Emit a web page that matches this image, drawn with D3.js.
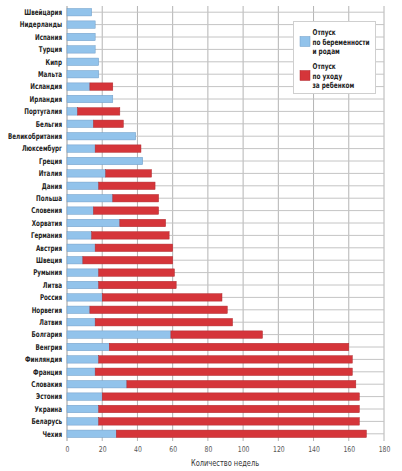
<!DOCTYPE html>
<html><head><meta charset="utf-8">
<script src="https://cdn.jsdelivr.net/npm/d3@7"></script>
<style>
html,body{margin:0;padding:0;background:#fff;}
svg{display:block;}
text{font-family:"DejaVu Sans Condensed","DejaVu Sans",sans-serif;}
</style></head>
<body>
<svg id="chart" width="402" height="471"></svg>
<script>
const countries = ["Швейцария","Нидерланды","Испания","Турция","Кипр","Мальта","Исландия","Ирландия","Португалия","Бельгия","Великобритания","Люксембург","Греция","Италия","Дания","Польша","Словения","Хорватия","Германия","Австрия","Швеция","Румыния","Литва","Россия","Норвегия","Латвия","Болгария","Венгрия","Финляндия","Франция","Словакия","Эстония","Украина","Беларусь","Чехия"];
const maternity = [14,16,16,16,18,18,13,26,6,15,39,16,43,22,18,26,15,30,14,16,9,18,18,20,13,16,59,24,18,16,34,20,18,18,28];
const childcare = [0,0,0,0,0,0,13,0,24,17,0,26,0,26,32,26,37,26,44,44,51,43,44,68,78,78,52,136,144,146,130,146,148,148,142];
const xTicks = [0,20,40,60,80,100,120,140,160,180];
const seriesNames = ["Отпуск\nпо беременности\nи родам","Отпуск\nпо уходу\nза ребенком"];
const seriesColors = ["#92c3eb","#d5353a"];
const seriesStrokes = ["#6f9cc6","#b02a2e"];
const xTitle = "Количество недель";

const svg = d3.select("#chart");
const x = d3.scaleLinear().domain([0,180]).range([67,384]);
const y = d3.scaleBand().domain(countries).range([6,440]).paddingInner(0.4).paddingOuter(0.2);
const yc = d => y(d) + y.bandwidth()/2;

function ctext(g, px, py, str, opts){
  return g.append("text")
    .attr("transform",`translate(${px},${py}) scale(${opts.sx||0.8},1)`)
    .attr("dy","0.35em")
    .attr("text-anchor",opts.anchor||"start")
    .attr("font-size",opts.size||8)
    .attr("font-weight",opts.weight||"normal")
    .attr("fill",opts.fill||"#222")
    .text(str);
}

// vertical grid
svg.append("g").selectAll("line").data(xTicks).join("line")
  .attr("x1",d=>x(d)).attr("x2",d=>x(d)).attr("y1",6).attr("y2",441)
  .attr("stroke",d=>d===0?"#9a9a9a":"#b4b4b4").attr("stroke-width",1);
// horizontal grid through band centers
svg.append("g").selectAll("line").data(countries).join("line")
  .attr("x1",x(0)).attr("x2",x(180)).attr("y1",d=>yc(d)).attr("y2",d=>yc(d))
  .attr("stroke","#c4c4c4").attr("stroke-width",1);

const data = countries.map((c,i)=>({c, m:maternity[i], p:childcare[i]}));
const stack = d3.stack().keys(["m","p"])(data);
svg.append("g").selectAll("g").data(stack).join("g")
  .attr("fill",(d,i)=>seriesColors[i]).attr("stroke",(d,i)=>seriesStrokes[i]).attr("stroke-width",0.5)
  .selectAll("rect").data(d=>d.filter(s=>s[1]>s[0])).join("rect")
  .attr("x",d=>x(d[0])).attr("width",d=>x(d[1])-x(d[0]))
  .attr("y",d=>y(d.data.c)).attr("height",y.bandwidth());

// country labels
const lab = svg.append("g");
countries.forEach(c=>ctext(lab, 62, yc(c), c, {anchor:"end", size:8, weight:"bold", fill:"#222", sx:0.78}));

// x axis tick labels
const xAxis = d3.axisBottom(x).tickValues(xTicks).tickSize(0).tickPadding(0);
const ax = svg.append("g").attr("transform","translate(0,446)").call(xAxis);
ax.select(".domain").remove();
ax.selectAll("text").attr("font-size",8).attr("fill","#555").attr("transform","scale(0.85,1)");

ctext(svg, 225, 463, xTitle, {anchor:"middle", size:9, fill:"#333", sx:0.82});

// legend
const lg = svg.append("g");
lg.append("rect").attr("x",293.5).attr("y",21.5).attr("width",82).attr("height",72)
  .attr("fill","#fff").attr("stroke","#cfcfcf");
const lgY = [32.5,66.5];
seriesNames.forEach((name,i)=>{
  lg.append("rect").attr("x",300).attr("y",lgY[i]+4).attr("width",10).attr("height",10)
    .attr("fill",seriesColors[i]).attr("stroke",seriesStrokes[i]).attr("stroke-width",0.5);
  name.split("\n").forEach((ln,j)=>{
    ctext(lg, 312.5, lgY[i]+j*9.3, ln, {size:8, weight:"bold", fill:"#222", sx:0.8});
  });
});
</script>
</body></html>
